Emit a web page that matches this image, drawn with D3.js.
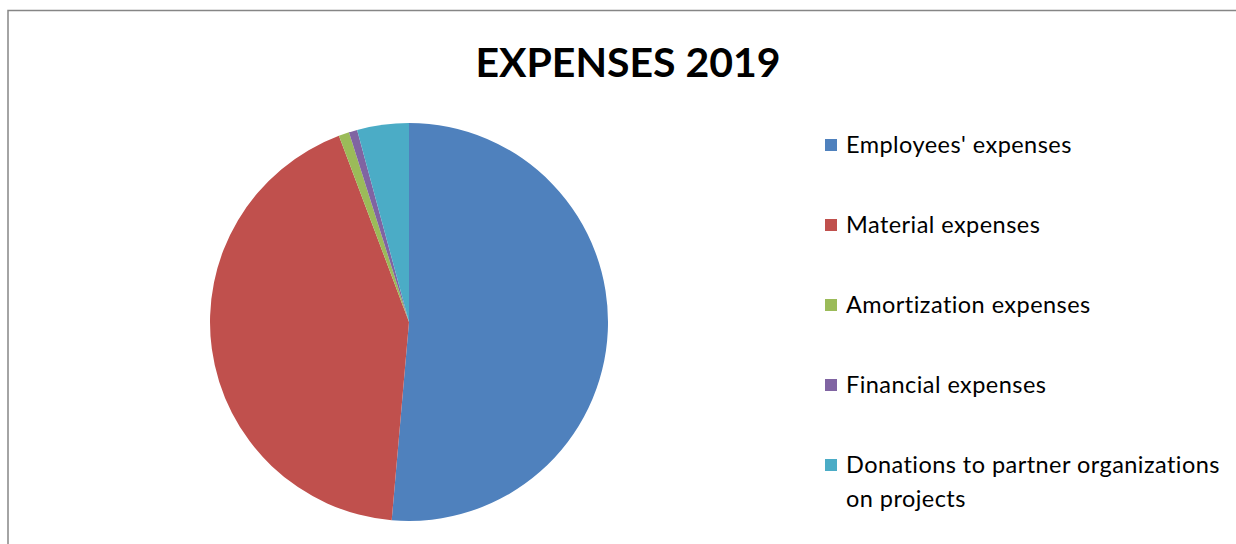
<!DOCTYPE html>
<html><head><meta charset="utf-8">
<script src="https://cdn.jsdelivr.net/npm/d3@7"></script>
<style>body{margin:0;background:#fff}svg{display:block}</style>
</head><body>
<svg id="c" width="1236" height="544"></svg>
<script>
const categories = ["Employees' expenses","Material expenses","Amortization expenses","Financial expenses","Donations to partner organizations on projects"];
const values = [51.4, 42.9, 0.85, 0.68, 4.2];
const colors = ["#4F81BD","#C0504D","#9BBB59","#8064A2","#4BACC6"];
const title = "EXPENSES 2019";

const svg = d3.select("#c");
svg.append("rect").attr("x",8).attr("y",10.5).attr("width",1240).attr("height",560)
  .attr("fill","#fff").attr("stroke","#868686").attr("stroke-width",1.5);

svg.append("text").attr("x",628).attr("y",77).attr("text-anchor","middle")
  .attr("font-family","Lato").attr("font-weight","bold").attr("font-size",41)
  .attr("fill","#000").text(title);

const cx=409, cy=322, r=199;
const pie = d3.pie().sort(null).value(d=>d)(values);
const arc = d3.arc().innerRadius(0).outerRadius(r);
const color = d3.scaleOrdinal().domain(categories).range(colors);
svg.append("g").attr("transform",`translate(${cx},${cy})`)
  .selectAll("path").data(pie).join("path")
  .attr("d",arc).attr("fill",(d,i)=>color(categories[i]));

const lg = svg.append("g").attr("font-family","Lato").attr("font-size",23.5)
  .attr("letter-spacing",0.45).attr("fill","#000");
const y0=145, dy=80;
categories.forEach((c,i)=>{
  const y=y0+i*dy;
  lg.append("rect").attr("x",825).attr("y",y-6).attr("width",12).attr("height",12).attr("fill",color(c));
  const t = lg.append("text").attr("x",846).attr("y",y+8);
  if(i===4){
    t.append("tspan").attr("x",846).text("Donations to partner organizations");
    t.append("tspan").attr("x",846).attr("dy",34).text("on projects");
  } else t.text(c);
});
</script></body></html>
